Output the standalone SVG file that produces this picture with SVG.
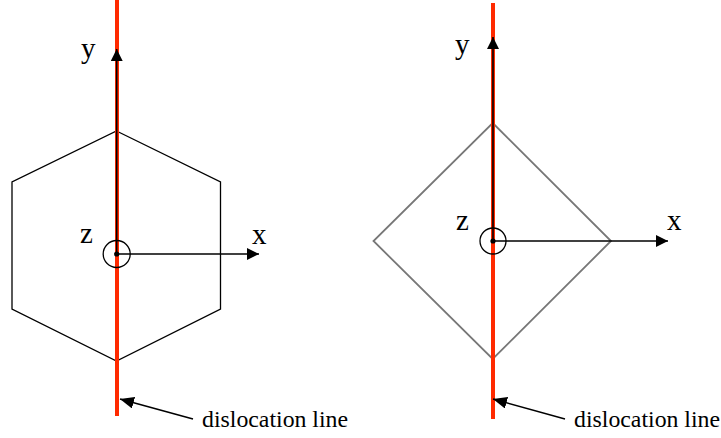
<svg xmlns="http://www.w3.org/2000/svg" width="721" height="438" viewBox="0 0 721 438">
<style>
.red{stroke:#ff2a00;stroke-width:4;fill:none}
.ax{stroke:#000;stroke-width:1.6;fill:none}
.shape{stroke:#000;stroke-width:1.3;fill:none}
.shape2{stroke:#777;stroke-width:1.8;fill:none}
.ring{stroke:#000;stroke-width:1.3;fill:none}
text{font-family:"Liberation Serif","Times New Roman",serif;fill:#000}
.lbl{font-size:29px}
.cap{font-size:23.8px}
.ptr{stroke:#000;stroke-width:1.5;fill:none}
</style>
<defs>
<marker id="ah" viewBox="0 0 12 12" refX="12" refY="6" markerWidth="12" markerHeight="12" markerUnits="userSpaceOnUse" orient="auto">
<path d="M0,0 L12,6 L0,12 Z" fill="#000"/>
</marker>
<marker id="ah2" viewBox="0 0 14 12" refX="14" refY="6" markerWidth="14" markerHeight="12" markerUnits="userSpaceOnUse" orient="auto">
<path d="M0,0 L14,6 L0,12 Z" fill="#000"/>
</marker>
</defs>

<g id="hexagon-cell">
<polygon class="shape" points="116.5,131 220.5,182 220.5,309 116.5,361 12,309 12,182"/>
</g>
<g id="diamond-cell">
<polygon class="shape2" points="492.7,123 611,241 492.7,359 373.5,241"/>
</g>

<g id="dislocation-left">
<line class="red" x1="117" y1="0" x2="117" y2="416"/>
</g>
<g id="dislocation-right">
<line class="red" x1="493" y1="3" x2="493" y2="419"/>
</g>

<g id="connectors">
<line class="ax" x1="116.7" y1="254" x2="116.7" y2="49" marker-end="url(#ah)"/>
<line class="ax" x1="116.7" y1="254" x2="259" y2="254" marker-end="url(#ah)"/>
<line class="ax" x1="493" y1="241" x2="493" y2="37" marker-end="url(#ah)"/>
<line class="ax" x1="493" y1="241" x2="668" y2="241" marker-end="url(#ah)"/>
<line class="ptr" x1="193" y1="419" x2="120" y2="399" marker-end="url(#ah2)"/>
<line class="ptr" x1="565" y1="419" x2="493" y2="399" marker-end="url(#ah2)"/>
</g>

<g id="origin-left">
<circle class="ring" cx="116.7" cy="254" r="13.5"/>
<circle cx="116.7" cy="254" r="2.6" fill="#000"/>
</g>
<g id="origin-right">
<circle class="ring" cx="493" cy="241" r="13"/>
<circle cx="493" cy="241" r="2.6" fill="#000"/>
</g>

<g id="labels">
<text class="lbl" x="81" y="58">y</text>
<text class="lbl" x="80" y="243">z</text>
<text class="lbl" x="252" y="244">x</text>
<text class="lbl" x="455" y="54">y</text>
<text class="lbl" x="456" y="230">z</text>
<text class="lbl" x="667" y="230">x</text>
<text class="cap" x="202" y="427">dislocation line</text>
<text class="cap" x="574" y="427">dislocation line</text>
</g>
</svg>
